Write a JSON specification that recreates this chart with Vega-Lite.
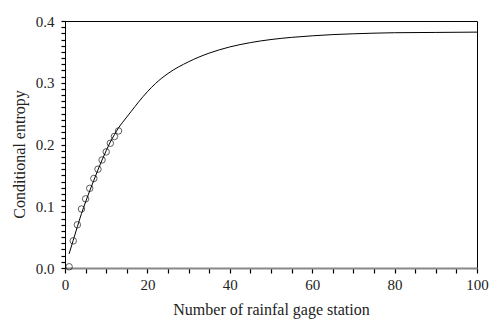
{
  "$schema": "https://vega.github.io/schema/vega-lite/v6.json",
  "width": 412,
  "height": 247,
  "autosize": {"type": "none"},
  "padding": {"left": 65, "top": 21, "right": 14, "bottom": 55},
  "config": {
    "view": {"stroke": "#000", "strokeWidth": 1},
    "font": "Liberation Serif"
  },
  "datasets": {
    "curve": [
      {"n": 1, "h": 0.023}, {"n": 2, "h": 0.045}, {"n": 3, "h": 0.067}, {"n": 4, "h": 0.088},
      {"n": 5, "h": 0.107}, {"n": 6, "h": 0.125}, {"n": 7, "h": 0.142}, {"n": 8, "h": 0.159},
      {"n": 9, "h": 0.175}, {"n": 10, "h": 0.19}, {"n": 11, "h": 0.204}, {"n": 12, "h": 0.216},
      {"n": 13, "h": 0.227}, {"n": 14, "h": 0.236}, {"n": 16, "h": 0.253}, {"n": 18, "h": 0.27},
      {"n": 20, "h": 0.2855}, {"n": 22, "h": 0.299}, {"n": 25, "h": 0.315}, {"n": 30, "h": 0.334},
      {"n": 35, "h": 0.348}, {"n": 40, "h": 0.358}, {"n": 45, "h": 0.365}, {"n": 50, "h": 0.37},
      {"n": 55, "h": 0.3735}, {"n": 60, "h": 0.376}, {"n": 65, "h": 0.378}, {"n": 70, "h": 0.3793},
      {"n": 75, "h": 0.3803}, {"n": 80, "h": 0.381}, {"n": 90, "h": 0.3815}, {"n": 100, "h": 0.382}
    ],
    "pts": [
      {"n": 1, "h": 0.002}, {"n": 2, "h": 0.044}, {"n": 3, "h": 0.07}, {"n": 4, "h": 0.0955},
      {"n": 5, "h": 0.112}, {"n": 6, "h": 0.129}, {"n": 7, "h": 0.145}, {"n": 8, "h": 0.16},
      {"n": 9, "h": 0.175}, {"n": 10, "h": 0.188}, {"n": 11, "h": 0.202}, {"n": 12, "h": 0.213},
      {"n": 13, "h": 0.222}
    ]
  },
  "encoding": {
    "x": {"field": "n", "type": "quantitative", "scale": {"domain": [0, 100], "nice": false},
      "axis": {"grid": false, "values": [0, 5, 10, 15, 20, 25, 30, 35, 40, 45, 50, 55, 60, 65, 70, 75, 80, 85, 90, 95, 100],
        "labelExpr": "datum.value % 20 === 0 ? datum.label : ''",
        "title": "Number of rainfal gage station", "titleFont": "Liberation Serif", "labelFont": "Liberation Serif", "titleFontWeight": "normal", "titleFontSize": 16, "labelFontSize": 15, "labelColor": "#222", "titleColor": "#222",
        "ticks": true, "tickSize": 5, "tickWidth": 1.2, "tickColor": "#000",
        "domainColor": "#888", "domainWidth": 2, "labelPadding": 4, "titlePadding": 9, "labelOverlap": false, "labelFlush": false}},
    "y": {"field": "h", "type": "quantitative", "scale": {"domain": [0, 0.4], "nice": false},
      "axis": {"grid": false, "values": [0, 0.01, 0.02, 0.03, 0.04, 0.05, 0.06, 0.07, 0.08, 0.09, 0.1, 0.11, 0.12, 0.13, 0.14, 0.15, 0.16, 0.17, 0.18, 0.19, 0.2, 0.21, 0.22, 0.23, 0.24, 0.25, 0.26, 0.27, 0.28, 0.29, 0.3, 0.31, 0.32, 0.33, 0.34, 0.35, 0.36, 0.37, 0.38, 0.39, 0.4],
        "labelExpr": "abs(datum.value * 10 - round(datum.value * 10)) < 0.001 ? format(datum.value, '.1f') : ''",
        "title": "Conditional entropy", "titleFont": "Liberation Serif", "labelFont": "Liberation Serif", "titleFontWeight": "normal", "titleFontSize": 16, "labelFontSize": 15, "labelColor": "#222", "titleColor": "#222",
        "ticks": true, "tickSize": 4, "tickWidth": 1.2, "tickColor": "#000",
        "domainColor": "#000", "labelPadding": 7, "titlePadding": 8, "titleY": 133, "labelOverlap": false, "labelFlush": false}}
  },
  "layer": [
    {
      "data": {"name": "curve"},
      "mark": {"type": "line", "color": "#000", "strokeWidth": 1, "interpolate": "monotone"}
    },
    {
      "data": {"name": "pts"},
      "mark": {"type": "point", "shape": "circle", "size": 42, "filled": false, "color": "#000", "strokeWidth": 0.9, "clip": false}
    }
  ]
}
